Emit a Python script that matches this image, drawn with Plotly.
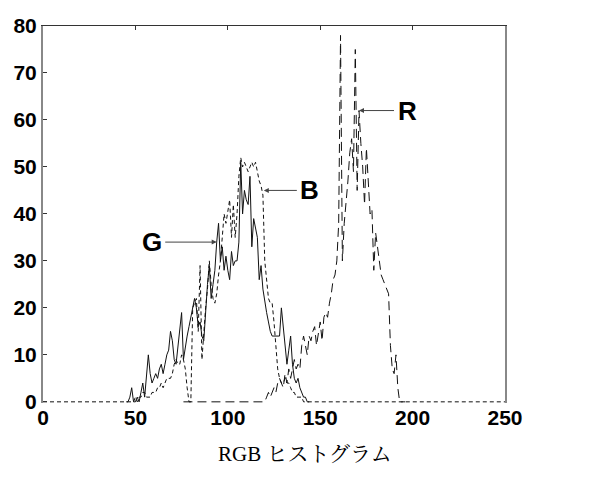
import plotly.graph_objects as go

# ---- data (pixel-intensity bins and counts) ----
G_START = 45
G_VALUES = [0, 0, 1, 3, 0, 0, 1, 0, 2, 4,          # 45-54
            1, 5, 10, 6, 4, 5, 6, 5, 7, 8,         # 55-64
            6, 8, 10, 11, 15, 13, 9, 8, 12, 16,    # 65-74
            19, 9, 12, 14, 16, 18, 20, 22, 20, 16, # 75-84
            17, 14, 13, 20, 25, 29, 22, 25, 28, 34,# 85-94
            38, 30, 33, 28, 31, 28, 26, 32, 29, 30,# 95-104
            30, 34, 51, 40, 45, 43, 42, 48, 33, 39,# 105-114
            37, 35, 26, 29, 24, 21, 19, 17, 15, 14,# 115-124
            14, 14, 14, 14, 20, 16, 12, 8, 11, 14, # 125-134
            8, 5, 4, 5, 3, 2, 1, 1, 0, 0]          # 135-144

B_START = 0
B_VALUES = ([0] * 48 +
            [0, 0, 1, 0, 1, 1, 2, 2, 1, 1,         # 48-57
             1, 2, 2, 2, 3, 3, 4, 3, 4, 5,         # 58-67
             5, 5, 6, 8, 9, 8, 8, 10, 9, 7,        # 68-77
             3, 0, 0, 20, 21, 22, 15, 29, 9, 15,   # 78-87
             20, 24, 30, 25, 22, 21, 23, 27, 30, 35,  # 88-97
             40, 38, 41, 43, 35, 42, 35, 40, 48, 52,  # 98-107
             50, 51, 50, 49, 50, 51, 50, 51, 49, 47,  # 108-117
             46, 44, 30, 25, 22, 21, 21, 17, 11, 7,   # 118-127
             5, 4, 4, 5, 4, 4, 3, 2, 2, 1,            # 128-137
             1, 1, 1, 0] +                            # 138-141
            [0] * 110)                                # 142-251

R_START = 76
R_VALUES = ([0] * 44 +                                # 76-119
            [0, 1, 2, 1, 2, 3, 2, 4, 5, 4,            # 120-129
             3, 6, 4, 7, 5, 7, 9, 7, 8, 7,            # 130-139
             12, 14, 12, 10, 14, 13, 15, 16, 12, 15,  # 140-149
             17, 13, 18, 19, 18, 21, 23, 26, 27, 30,  # 150-159
             38, 78, 30, 38, 42, 47, 53, 56, 49, 75,  # 160-169
             45, 62, 55, 50, 42, 54, 47, 40, 41, 28,  # 170-179
             36, 33, 30, 27, 26, 25, 24, 23, 12, 7,   # 180-189
             6, 10, 3, 0] +                           # 190-193
            [0] * 3)                                  # 194-196

X_TICKS = [0, 50, 100, 150, 200, 250]
Y_TICKS = [0, 10, 20, 30, 40, 50, 60, 70, 80]
TITLE = "RGB ヒストグラム"

# ---- figure ----
fig = go.Figure()

def xs(start, vals):
    return list(range(start, start + len(vals)))

fig.add_trace(go.Scatter(x=xs(R_START, R_VALUES), y=R_VALUES, mode="lines",
                         line=dict(color="#111", width=1, dash="9px,5px"),
                         showlegend=False, hoverinfo="skip"))
fig.add_trace(go.Scatter(x=xs(B_START, B_VALUES), y=B_VALUES, mode="lines",
                         line=dict(color="#111", width=1, dash="4px,3px"),
                         showlegend=False, hoverinfo="skip"))
fig.add_trace(go.Scatter(x=xs(G_START, G_VALUES), y=G_VALUES, mode="lines",
                         line=dict(color="#111", width=1),
                         showlegend=False, hoverinfo="skip"))
# helper trace so the top axis is drawn
fig.add_trace(go.Scatter(x=[0, 250], y=[None, None], xaxis="x2", mode="lines",
                         showlegend=False, hoverinfo="skip"))

tickfont = dict(family="Liberation Sans, Arial, sans-serif", size=21,
                color="black", weight="bold")

# the page body adds an 8px offset, so the figure is sized to fit inside it
fig.update_layout(
    template="none",
    width=602, height=469,
    margin=dict(l=35, r=105, t=18, b=74, autoexpand=False),
    paper_bgcolor="white", plot_bgcolor="white",
    xaxis=dict(range=[0, 250], tickvals=X_TICKS, ticks="", showline=False,
               showgrid=False, zeroline=False, tickfont=tickfont, automargin=False),
    xaxis2=dict(range=[0, 250], overlaying="x", side="top", anchor="y",
                showline=True, linecolor="#333", linewidth=1,
                ticks="inside", tickvals=X_TICKS[1:-1], ticklen=4,
                tickcolor="#333", showticklabels=False, showgrid=False,
                zeroline=False, automargin=False),
    yaxis=dict(range=[-0.25, 80], tickvals=Y_TICKS, ticks="inside", ticklen=4,
               tickcolor="#333", showline=True, mirror=True, linecolor="#888",
               linewidth=2, showgrid=False, zeroline=False, tickfont=tickfont,
               automargin=False),
)

lab_font = dict(family="Liberation Sans, Arial, sans-serif", size=26,
                color="black", weight="bold")
for txt, x, y, ax in [("G", 94, 34, -65), ("B", 119.5, 45, 46), ("R", 171, 62, 48)]:
    fig.add_annotation(x=x, y=y, text=txt, showarrow=True, ax=ax, ay=0,
                       arrowhead=2, arrowsize=1, arrowwidth=1, arrowcolor="#444",
                       font=lab_font, standoff=0, startstandoff=2)

fig.add_annotation(x=0.567, y=-0.135, xref="paper", yref="paper",
                   text=TITLE, showarrow=False, xanchor="center", yanchor="middle",
                   font=dict(family="Liberation Serif, Noto Serif CJK JP, Noto Sans CJK JP, serif",
                             size=21, color="black"))

fig.write_html("out.html")
